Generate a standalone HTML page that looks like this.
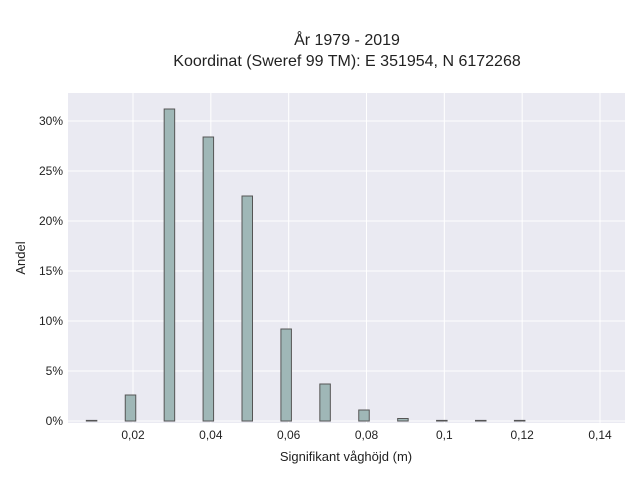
<!DOCTYPE html>
<html><head><meta charset="utf-8"><style>
body{margin:0;background:#fff;}
svg{display:block;font-family:"Liberation Sans",sans-serif;}
</style></head><body>
<svg id="c" width="640" height="480" xmlns="http://www.w3.org/2000/svg">
<rect x="0" y="0" width="640" height="480" fill="#fff"/>
<rect x="68" y="93" width="557" height="330" fill="#eaeaf2"/>
<g id="grid"></g>
<g id="bars"></g>
<g id="ticks"></g>
<text x="347" y="45" text-anchor="middle" font-size="16" fill="#222">År 1979 - 2019</text>
<text x="347" y="66" text-anchor="middle" font-size="16" fill="#222">Koordinat (Sweref 99 TM): E 351954, N 6172268</text>
<text x="346" y="461" text-anchor="middle" font-size="13" fill="#222">Signifikant våghöjd (m)</text>
<text transform="translate(25,258) rotate(-90)" text-anchor="middle" font-size="13" fill="#222">Andel</text>
</svg>
<script>
const binCenters=[0.01,0.02,0.03,0.04,0.05,0.06,0.07,0.08,0.09,0.10,0.11,0.12];
const shares=[0.05,2.6,31.2,28.4,22.5,9.2,3.7,1.1,0.25,0.05,0.05,0.05];
const xTicks=[0.02,0.04,0.06,0.08,0.10,0.12,0.14];
const xTickLabels=["0,02","0,04","0,06","0,08","0,1","0,12","0,14"];
const yTicks=[0,5,10,15,20,25,30];
const yTickLabels=["0%","5%","10%","15%","20%","25%","30%"];
const NS="http://www.w3.org/2000/svg";
const X=v=>133+(v-0.02)*(467/0.12);
const Y=v=>421-v*10;
const grid=document.getElementById('grid'),bars=document.getElementById('bars'),ticks=document.getElementById('ticks');
function mk(tag,at,parent){const e=document.createElementNS(NS,tag);for(const k in at)e.setAttribute(k,at[k]);parent.appendChild(e);return e;}
xTicks.forEach((t,i)=>{
  const l=mk('line',{x1:X(t),x2:X(t),y1:93,y2:423,stroke:'#fff','stroke-width':1},grid);
  
  
  const tx=mk('text',{x:X(t),y:439,'text-anchor':'middle','font-size':12,fill:'#222'},ticks);
  tx.textContent=xTickLabels[i];
  
  
});
yTicks.forEach((t,i)=>{
  const l=mk('line',{x1:68,x2:625,y1:Y(t),y2:Y(t),stroke:'#fff','stroke-width':1},grid);
  
  
  const tx=mk('text',{x:63,y:Y(t)+4,'text-anchor':'end','font-size':12,fill:'#222'},ticks);
  tx.textContent=yTickLabels[i];
  
  
});
binCenters.forEach((c,i)=>{
  const cx=X(c)-2.5,w=10.5;
  const h=Math.max(Y(0)-Y(shares[i]),0.6);
  const r=mk('rect',{x:cx-w/2,y:Y(0)-h,width:w,height:h,fill:'#9fb7b7',stroke:'#555','stroke-width':1},bars);
  
  
});
</script>
</body></html>
